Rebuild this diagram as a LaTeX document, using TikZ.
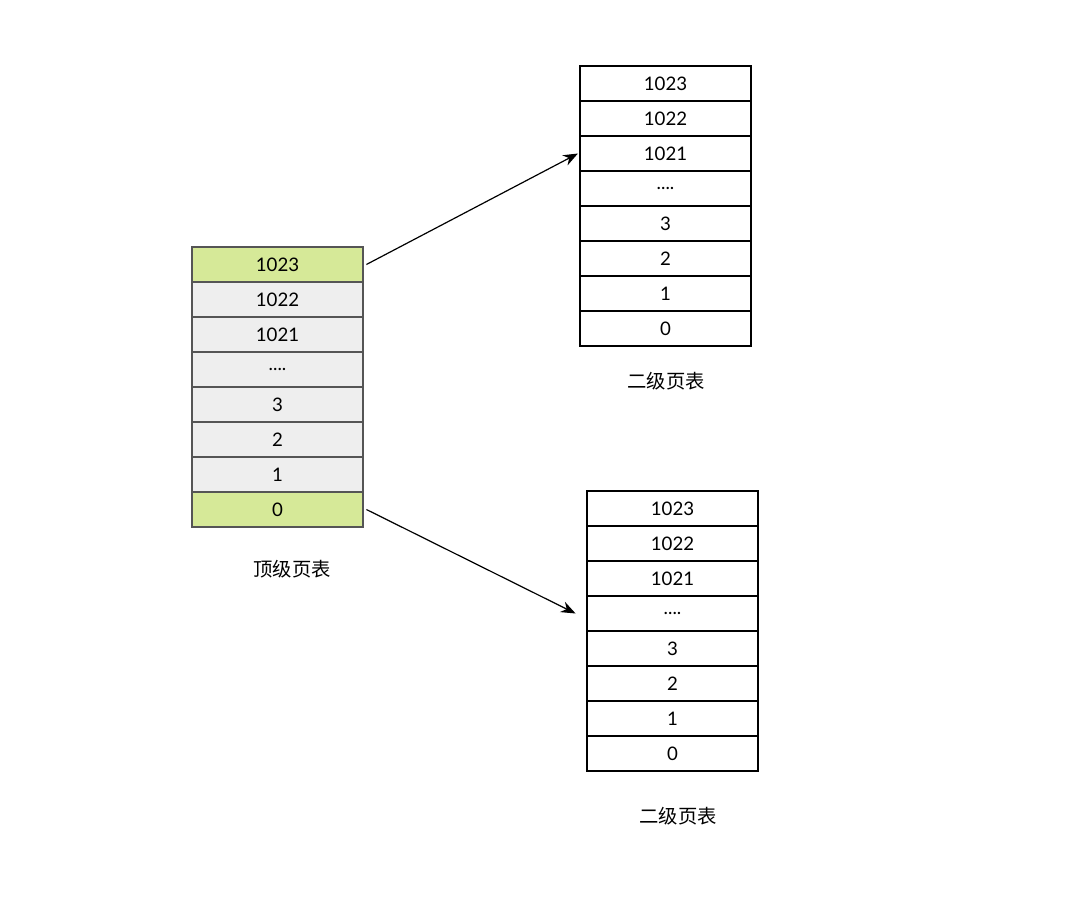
\documentclass[tikz,border=0pt]{standalone}
\usepackage{fontspec}
\setmainfont{Lato}
\newfontfamily\cjk{Noto Sans CJK SC}
\usetikzlibrary{arrows.meta}
\definecolor{cellgray}{HTML}{EEEEEE}
\definecolor{cellgreen}{HTML}{D6E998}
\definecolor{bordergray}{HTML}{555555}
\newcommand\fourdots{....}
\newcommand\celltext[1]{\raisebox{-1.5pt}{#1}}
\tikzset{
  cell/.style={draw=black, line width=1.1pt, fill=white, minimum width=171*0.75pt, minimum height=35*0.75pt, inner sep=0pt, font=\fontsize{14}{16}\selectfont, anchor=center},
  lcell/.style={cell, draw=bordergray, fill=cellgray},
  gcell/.style={cell, draw=bordergray, fill=cellgreen},
  caption/.style={font=\cjk\fontsize{14.5}{17}\selectfont},
  link/.style={line width=0.9pt, -{Stealth[length=11pt,width=8.5pt]}}
}
\begin{document}
\begin{tikzpicture}[x=0.75pt,y=-0.75pt]
\useasboundingbox (0,0) rectangle (1080,896);
\fill[white] (0,0) rectangle (1080,896);
% left table
\def\labels{1023,1022,1021,\fourdots,3,2,1,0}
\foreach \t [count=\i] in \labels {
  \ifnum\i=1 \def\st{gcell}\else\ifnum\i=8 \def\st{gcell}\else\def\st{lcell}\fi\fi
  \node[\st] (L\i) at (277.5, {247+35*(\i-0.5)}) {\celltext{\t}};
}
\foreach \t [count=\i] in \labels {
  \node[cell] (T\i) at (665.5, {66+35*(\i-0.5)}) {\celltext{\t}};
}
\foreach \t [count=\i] in \labels {
  \node[cell] (B\i) at (672.5, {491+35*(\i-0.5)}) {\celltext{\t}};
}
\node[caption] (capL) at (292,569) {顶级页表};
\node[caption] (capT) at (666,381) {二级页表};
\node[caption] (capB) at (678,816) {二级页表};
\draw[link] ([xshift=2pt]L1.east) -- ([xshift=-1pt]T3.west);
\draw[link] ([xshift=2pt]L8.east) -- ([xshift=-8pt]B4.west);
\end{tikzpicture}
\end{document}
